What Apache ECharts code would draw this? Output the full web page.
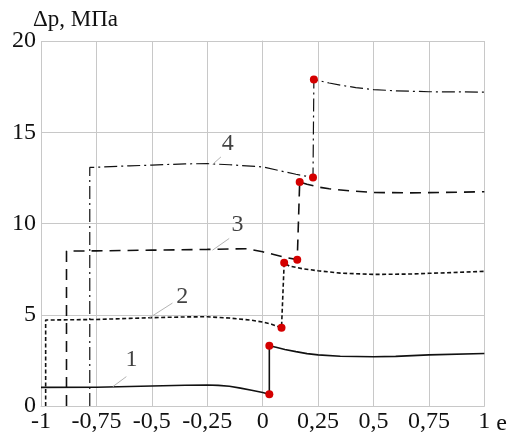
<!DOCTYPE html>
<html>
<head>
<meta charset="utf-8">
<script src="https://cdn.jsdelivr.net/npm/echarts@6/dist/echarts.min.js"></script>
<style>
  html, body { margin: 0; padding: 0; background: #fff; }
  #chart { width: 510px; height: 439px; }
</style>
</head>
<body>
<div id="chart"></div>
<script>
// x ticks / y ticks
var xTicks = [-1, -0.75, -0.5, -0.25, 0, 0.25, 0.5, 0.75, 1];
var yTicks = [0, 5, 10, 15, 20];

// curve 1 (solid)
var c1x = [-1, -0.75, -0.5, -0.35, -0.25, -0.2, -0.15, -0.1, -0.05, 0, 0.03, 0.03, 0.06, 0.1, 0.15, 0.2, 0.25, 0.35, 0.5, 0.6, 0.75, 1];
var c1y = [1.02, 1.03, 1.1, 1.14, 1.15, 1.13, 1.08, 0.98, 0.86, 0.74, 0.64, 3.3, 3.22, 3.1, 2.98, 2.87, 2.8, 2.73, 2.7, 2.72, 2.8, 2.88];
// curve 2 (short dash)
var c2x = [-0.979, -0.979, -0.9, -0.75, -0.6, -0.5, -0.35, -0.25, -0.15, -0.05, 0, 0.04, 0.085, 0.097, 0.12, 0.18, 0.25, 0.35, 0.5, 0.66, 0.75, 0.88, 1];
var c2y = [0, 4.71, 4.72, 4.74, 4.8, 4.84, 4.88, 4.89, 4.82, 4.7, 4.6, 4.48, 4.29, 7.85, 7.67, 7.52, 7.41, 7.28, 7.21, 7.23, 7.27, 7.32, 7.38];
// curve 3 (long dash)
var c3x = [-0.885, -0.885, -0.75, -0.5, -0.25, -0.07, 0, 0.05, 0.1, 0.156, 0.167, 0.2, 0.25, 0.3, 0.4, 0.5, 0.66, 0.75, 1];
var c3y = [0, 8.49, 8.5, 8.54, 8.58, 8.62, 8.45, 8.3, 8.15, 8.02, 12.28, 12.15, 12.0, 11.9, 11.78, 11.7, 11.68, 11.69, 11.74];
// curve 4 (dash-dot)
var c4x = [-0.78, -0.78, -0.6, -0.5, -0.35, -0.25, -0.15, 0, 0.074, 0.15, 0.227, 0.231, 0.3, 0.35, 0.42, 0.5, 0.6, 0.75, 1];
var c4y = [0, 13.07, 13.16, 13.2, 13.27, 13.28, 13.22, 13.1, 12.9, 12.7, 12.52, 17.89, 17.7, 17.58, 17.45, 17.34, 17.27, 17.22, 17.2];

// red points at the jumps
var dotX = [0.03, 0.03, 0.085, 0.097, 0.156, 0.167, 0.227, 0.231];
var dotY = [0.64, 3.3, 4.29, 7.85, 8.02, 12.28, 12.52, 17.89];

// curve numbers and their leader lines
var tagText = ['1', '2', '3', '4'];
var tagX = [-0.592, -0.363, -0.113, -0.158];
var tagY = [2.52, 5.99, 9.91, 14.39];
var leadX0 = [-0.676, -0.51, -0.226, -0.226];
var leadY0 = [1.06, 4.84, 8.54, 13.24];
var leadX1 = [-0.615, -0.407, -0.151, -0.188];
var leadY1 = [1.61, 5.64, 9.18, 13.65];

function pairs(xs, ys) {
  return xs.map(function(x, i) { return [x, ys[i]]; });
}
function comma(v) {
  return String(v).replace('.', ',');
}

var serif = 'Liberation Serif, serif';
var chart = echarts.init(document.getElementById('chart'), null, {renderer: 'canvas'});

var series = [];
var styles = [
  {data: pairs(c1x, c1y), type: 'solid', width: 1.6},
  {data: pairs(c2x, c2y), type: [4, 2.5], width: 1.6},
  {data: pairs(c3x, c3y), type: [11, 7], width: 1.6},
  {data: pairs(c4x, c4y), type: [13, 4, 2, 4], width: 1.2}
];
styles.forEach(function(s) {
  series.push({
    type: 'line',
    data: s.data,
    showSymbol: false,
    animation: false,
    lineStyle: {color: '#111', width: s.width, type: s.type}
  });
});
for (var i = 0; i < tagText.length; i++) {
  series.push({
    type: 'line',
    data: [[leadX0[i], leadY0[i]], [leadX1[i], leadY1[i]]],
    showSymbol: false,
    animation: false,
    lineStyle: {color: '#b4b4b4', width: 1}
  });
}
series.push({
  type: 'scatter',
  data: pairs(dotX, dotY),
  symbolSize: 8,
  animation: false,
  itemStyle: {color: '#d40000', opacity: 1},
  z: 5
});
series.push({
  type: 'scatter',
  data: tagX.map(function(x, i) { return {value: [x, tagY[i]], name: tagText[i]}; }),
  symbolSize: 0,
  animation: false,
  label: {
    show: true,
    position: 'inside',
    formatter: function(p) { return p.name; },
    fontFamily: serif,
    fontSize: 24,
    color: '#111'
  }
});

var option = {
  backgroundColor: '#fff',
  textStyle: {fontFamily: serif},
  title: {
    text: 'Δp, МПа',
    left: 33,
    top: 8,
    padding: 0,
    textStyle: {fontFamily: serif, fontSize: 23, fontWeight: 'normal', color: '#111'}
  },
  grid: {left: 41, right: 24, top: 41, bottom: 33},
  xAxis: {
    type: 'value',
    min: xTicks[0],
    max: xTicks[xTicks.length - 1],
    interval: 0.25,
    name: 'e',
    nameLocation: 'end',
    nameGap: 12,
    nameTextStyle: {fontFamily: serif, fontSize: 24, color: '#111', verticalAlign: 'top', padding: [6, 0, 0, 0]},
    axisLine: {lineStyle: {color: '#c8c8c8'}},
    axisTick: {show: false},
    axisLabel: {fontFamily: serif, fontSize: 24, color: '#111', margin: 4, formatter: comma},
    splitLine: {show: true, lineStyle: {color: '#c8c8c8', width: 1}}
  },
  yAxis: {
    type: 'value',
    min: yTicks[0],
    max: yTicks[yTicks.length - 1],
    interval: 5,
    axisLine: {show: true, lineStyle: {color: '#c8c8c8'}},
    axisTick: {show: false},
    axisLabel: {fontFamily: serif, fontSize: 24, color: '#111', margin: 5},
    splitLine: {show: true, lineStyle: {color: '#c8c8c8', width: 1}}
  },
  series: series
};
chart.setOption(option);
</script>
</body>
</html>
